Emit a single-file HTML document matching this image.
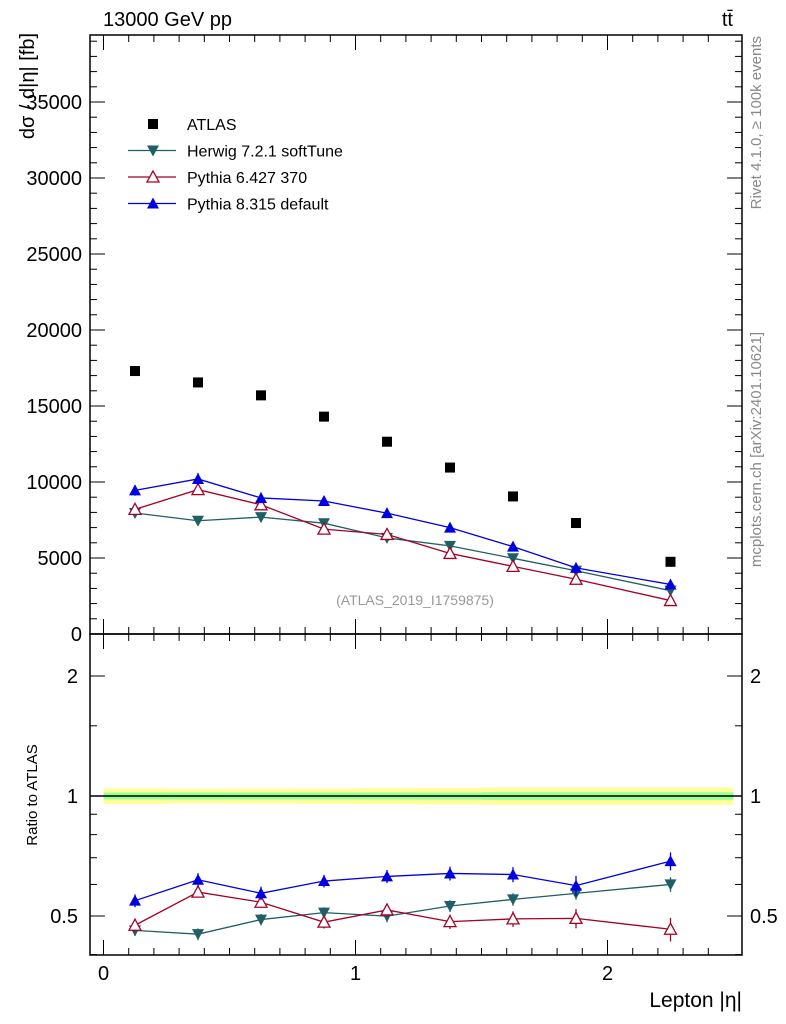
<!DOCTYPE html>
<html><head><meta charset="utf-8"><style>
body{margin:0;background:#fff;}
svg{display:block;font-family:"Liberation Sans",sans-serif;}
</style></head><body>
<svg id="c" width="786" height="1024" viewBox="0 0 786 1024"></svg>
<script>
const xCenters=[0.125,0.375,0.625,0.875,1.125,1.375,1.625,1.875,2.25];
const xLo=[0,0.25,0.5,0.75,1.0,1.25,1.5,1.75,2.0];
const xHi=[0.25,0.5,0.75,1.0,1.25,1.5,1.75,2.0,2.5];
const atlas=[17300,16550,15700,14300,12650,10950,9050,7300,4750];
const herwig=[7960,7450,7690,7290,6320,5800,4980,4160,2850];
const herwigErr=[250,250,250,230,220,200,180,150,120];
const pythia6=[8200,9500,8500,6900,6550,5300,4450,3600,2200];
const pythia6Err=[300,250,250,250,250,220,200,200,150];
const pythia8=[9450,10200,8950,8750,7950,7000,5750,4350,3260];
const pythia8Err=[350,400,350,320,300,280,250,250,170];
const bandYellow=[0.045,0.042,0.043,0.044,0.046,0.048,0.05,0.05,0.05];
const bandGreen=[0.02,0.02,0.02,0.02,0.02,0.02,0.022,0.022,0.022];
const mainTicks=[0,5000,10000,15000,20000,25000,30000,35000];
const ratioTicks=[0.5,1,2];
const xTicks=[0,1,2];

const NS="http://www.w3.org/2000/svg";
const svg=document.getElementById('c');
function el(t,a,p){const e=document.createElementNS(NS,t);for(const k in a)e.setAttribute(k,a[k]);(p||svg).appendChild(e);return e;}
const L=90,R=742,T=35,M=634,B=955;
const X=v=>103.5+v*252;
const Y=v=>M-v*76/5000;
const YR=r=>796-120*Math.log2(r);

for(let i=0;i<xCenters.length;i++){
  let r=el('rect',{x:X(xLo[i]),y:YR(1+bandYellow[i]),width:X(xHi[i])-X(xLo[i]),height:YR(1-bandYellow[i])-YR(1+bandYellow[i]),fill:'#ffff99'});
  
  let g=el('rect',{x:X(xLo[i]),y:YR(1+bandGreen[i]),width:X(xHi[i])-X(xLo[i]),height:YR(1-bandGreen[i])-YR(1+bandGreen[i]),fill:'#99ff99'});
  
}
el('line',{x1:L,x2:R,y1:YR(1),y2:YR(1),stroke:'#000','stroke-width':1.5});

el('rect',{x:L,y:T,width:R-L,height:M-T,fill:'none',stroke:'#000','stroke-width':1.5});
el('rect',{x:L,y:M,width:R-L,height:B-M,fill:'none',stroke:'#000','stroke-width':1.5});

for(let v=0;v<=2.5;v+=0.1){
  const vv=Math.round(v*10)/10,maj=Math.abs(vv-Math.round(vv))<1e-6,len=maj?15:7,x=X(vv);
  el('line',{x1:x,x2:x,y1:T,y2:T+len,stroke:'#000'});
  el('line',{x1:x,x2:x,y1:M,y2:M-len,stroke:'#000'});
  el('line',{x1:x,x2:x,y1:M,y2:M+len,stroke:'#000'});
  el('line',{x1:x,x2:x,y1:B,y2:B-len,stroke:'#000'});
}
xTicks.forEach(v=>{const t=el('text',{x:X(v),y:980,'font-size':20,'text-anchor':'middle'});t.textContent=v;
});

for(let v=0;v<=39000;v+=1000){
  const maj=v%5000===0,len=maj?15:7,y=Y(v);if(y<T)break;
  el('line',{x1:L,x2:L+len,y1:y,y2:y,stroke:'#000'});
  el('line',{x1:R,x2:R-len,y1:y,y2:y,stroke:'#000'});
}
mainTicks.forEach(v=>{const t=el('text',{x:82,y:Y(v)+7,'font-size':20,'text-anchor':'end'});t.textContent=v;
});

[0.4,0.5,0.6,0.7,0.8,0.9,1,1.5,2].forEach(v=>{
  const maj=ratioTicks.includes(v),len=maj?15:7,y=YR(v);
  el('line',{x1:L,x2:L+len,y1:y,y2:y,stroke:'#000'});
  el('line',{x1:R,x2:R-len,y1:y,y2:y,stroke:'#000'});
});
ratioTicks.forEach(v=>{
  let t=el('text',{x:78,y:YR(v)+7,'font-size':20,'text-anchor':'end'});t.textContent=v;
  
  t=el('text',{x:750,y:YR(v)+7,'font-size':20});t.textContent=v;
  
});

function mk(shape,x,y,c,g){
  if(shape==='sq') return el('rect',{x:x-5,y:y-5,width:10,height:10,fill:c},g);
  if(shape==='down') return el('polygon',{points:`${x-6},${y-5} ${x+6},${y-5} ${x},${y+6}`,fill:c},g);
  if(shape==='up') return el('polygon',{points:`${x-6},${y+5} ${x+6},${y+5} ${x},${y-6}`,fill:c},g);
  if(shape==='upo') return el('polygon',{points:`${x-6},${y+5} ${x+6},${y+5} ${x},${y-6}`,fill:'#fff',stroke:c,'stroke-width':1.3},g);
}
function series(name,vals,errs,color,shape){
  const g=el('g',{});
  const gr=el('g',{});
  el('polyline',{points:vals.map((v,i)=>X(xCenters[i])+','+Y(v)).join(' '),fill:'none',stroke:color,'stroke-width':1.3},g);
  el('polyline',{points:vals.map((v,i)=>X(xCenters[i])+','+YR(v/atlas[i])).join(' '),fill:'none',stroke:color,'stroke-width':1.3},gr);
  vals.forEach((v,i)=>{
    const x=X(xCenters[i]);
    el('line',{x1:x,x2:x,y1:Y(v-errs[i]),y2:Y(v+errs[i]),stroke:color,'stroke-width':1.3},g);
    mk(shape,x,Y(v),color,g);
    const r=v/atlas[i],re=errs[i]/atlas[i];
    el('line',{x1:x,x2:x,y1:YR(r-re),y2:YR(r+re),stroke:color,'stroke-width':1.3},gr);
    mk(shape,x,YR(r),color,gr);
  });
}
series('herwig',herwig,herwigErr,'#1f5f66','down');
series('pythia6',pythia6,pythia6Err,'#a50026','upo');
series('pythia8',pythia8,pythia8Err,'#0000e0','up');
const ga=el('g',{});
atlas.forEach((v,i)=>mk('sq',X(xCenters[i]),Y(v),'#000',ga));

const leg=[['ATLAS','#000','sq',false],['Herwig 7.2.1 softTune','#1f5f66','down',true],['Pythia 6.427 370','#a50026','upo',true],['Pythia 8.315 default','#0000e0','up',true]];
leg.forEach((l,i)=>{
  const y=124+i*26.5;
  const g=el('g',{});
  if(l[3]) el('line',{x1:128,x2:176,y1:y,y2:y,stroke:l[1],'stroke-width':1.3},g);
  mk(l[2],153,y,l[1],g);
  const t=el('text',{x:187,y:y+6,'font-size':16},g);t.textContent=l[0];
});

function txt(s,a,name){const t=el('text',a);t.textContent=s;return t;}
txt('13000 GeV pp',{x:103,y:26,'font-size':20},'energy-label');
txt('tt̄',{x:733,y:26,'font-size':20,'text-anchor':'end'},'process-label');
txt('dσ / d|η| [fb]',{x:0,y:0,'font-size':20,transform:'translate(34,33) rotate(-90)','text-anchor':'end'},'y-axis-title');
txt('Ratio to ATLAS',{x:0,y:0,'font-size':15,transform:'translate(37,795) rotate(-90)','text-anchor':'middle'},'ratio-axis-title');
txt('Lepton |η|',{x:742,y:1007,'font-size':21,'text-anchor':'end'},'x-axis-title');
txt('(ATLAS_2019_I1759875)',{x:415,y:605,'font-size':14,fill:'#999','text-anchor':'middle'},'analysis-label');
txt('Rivet 4.1.0, ≥ 100k events',{x:0,y:0,'font-size':15,fill:'#888',transform:'translate(761,36) rotate(-90)','text-anchor':'end'},'rivet-label');
txt('mcplots.cern.ch [arXiv:2401.10621]',{x:0,y:0,'font-size':15,fill:'#888',transform:'translate(761,332) rotate(-90)','text-anchor':'end'},'mcplots-label');
</script>
</body></html>
